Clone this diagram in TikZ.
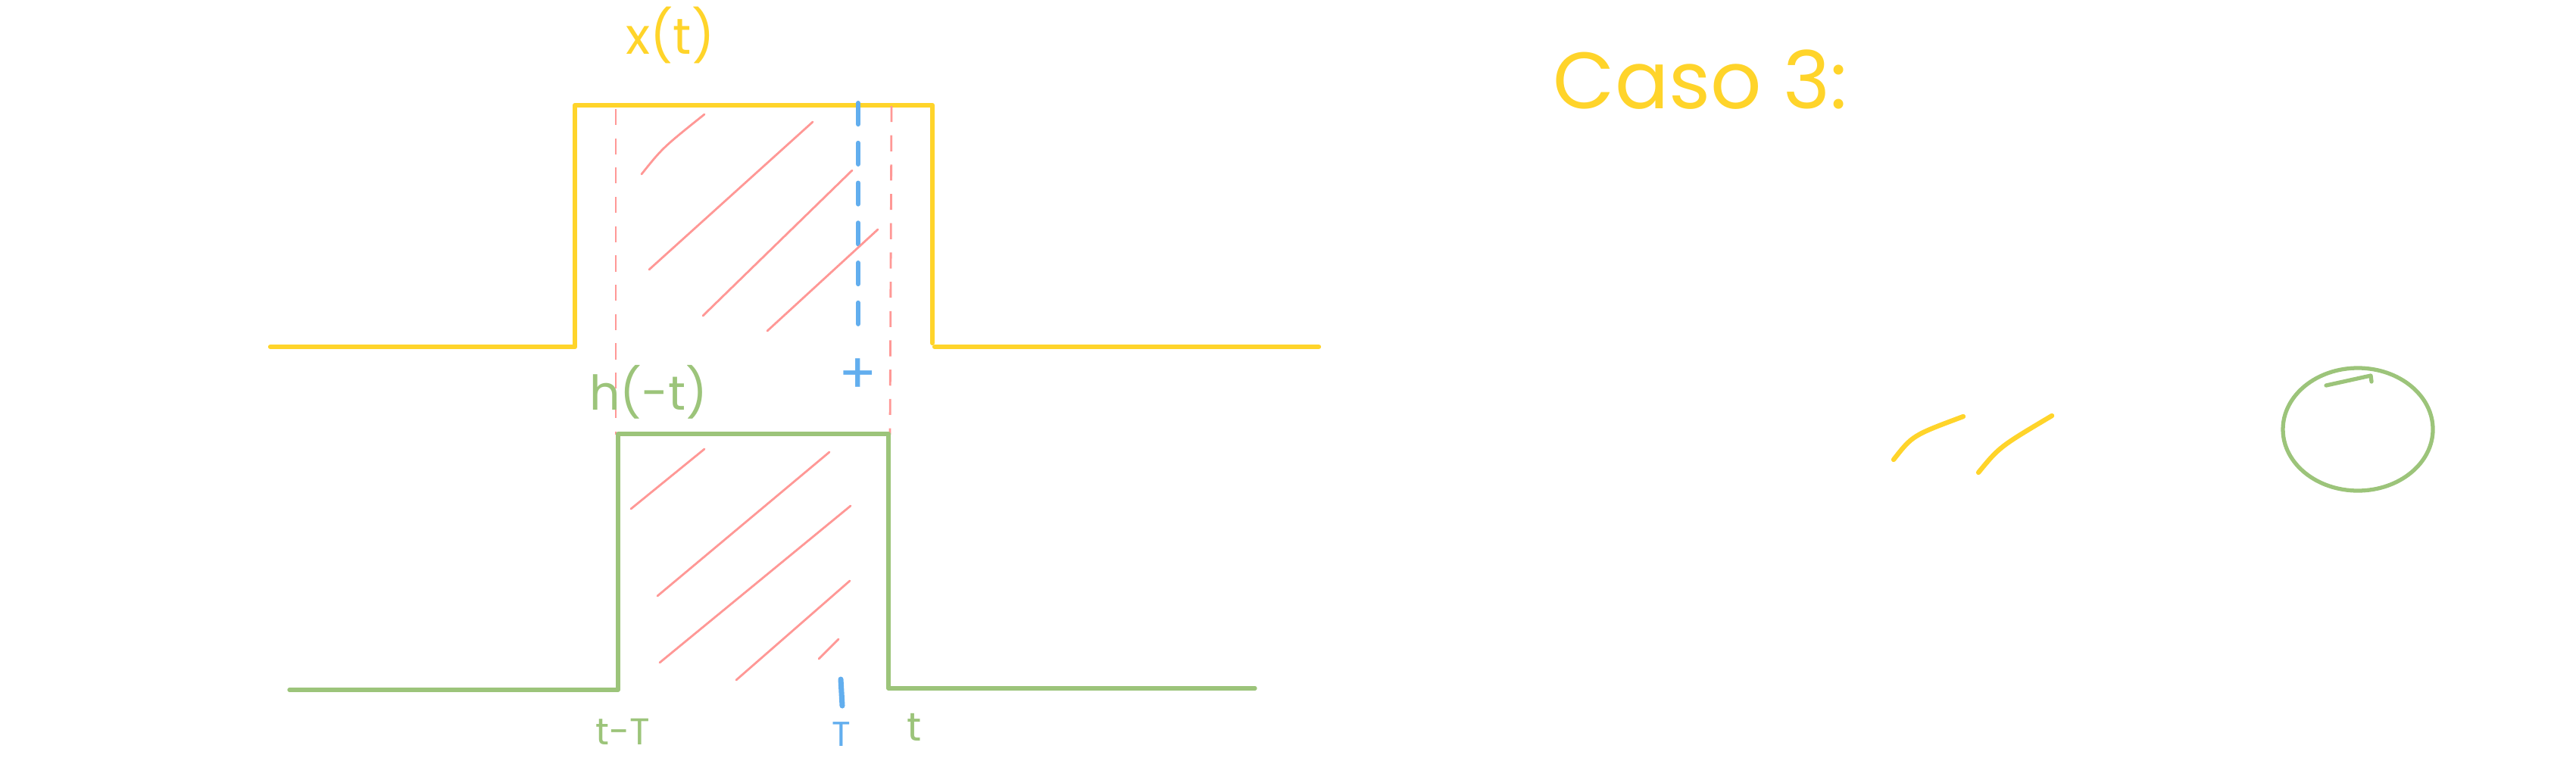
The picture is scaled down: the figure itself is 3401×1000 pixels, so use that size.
\documentclass[tikz,border=0pt]{standalone}
\usepackage{fontspec}
\setmainfont{Poppins}
\definecolor{xyellow}{RGB}{255,212,42}
\definecolor{hgreen}{RGB}{156,196,122}
\definecolor{hatchpink}{RGB}{255,152,150}
\definecolor{taublue}{RGB}{98,174,238}
\tikzset{
  xsig/.style={xyellow, line width=1.8pt, line cap=round, line join=round},
  hsig/.style={hgreen, line width=1.5pt, line cap=round, line join=round},
  hatchline/.style={hatchpink, line width=0.8pt, line cap=round},
  hatchdash/.style={hatchpink, line width=0.8pt, dash pattern=on 6pt off 5pt},
  taudash/.style={taublue, line width=1.7pt, line cap=round, dash pattern=on 8pt off 7pt},
  lab/.style={inner sep=0pt, font=\fontsize{19}{21}\selectfont}
}
\begin{document}
\begin{tikzpicture}[x=0.01cm, y=-0.01cm]
  \useasboundingbox (0,0) rectangle (3401,1000);

  % --- x(t), in alto ---
  \draw[xsig] (357,458) -- (759,458) -- (759,139) -- (1231,139) -- (1231,453);
  \draw[xsig] (1234,458) -- (1741,458);
  \node[lab, text=xyellow] (xlab) at (885,47) {x(t)};

  % --- estremi tratteggiati (rosa) ---
  \draw[hatchdash] (813,144) -- (813,574);
  \draw[hatchdash] (1177,140) -- (1175,574);

  % --- tratteggio blu e tau ---
  \draw[taudash] (1133,136) -- (1133,452);
  \node[lab, text=taublue, font=\fontsize{21}{23}\selectfont] (taulab) at (1133,497) {+};

  % --- righe oblique sopra ---
  \draw[hatchline] (847,230) .. controls (875,195) .. (930,151);
  \draw[hatchline] (857,356) -- (1073,161);
  \draw[hatchline] (928,417) -- (1125,225);
  \draw[hatchline] (1013,437) -- (1159,303);

  % --- h(-t), in basso ---
  \draw[hsig] (382,911) -- (816,911) -- (816,573) -- (1173,573) -- (1173,909) -- (1657,909);
  \node[lab, text=hgreen, font=\fontsize{18}{20}\selectfont] (hlab) at (856,518) {h(-t)};

  % --- righe oblique sotto ---
  \draw[hatchline] (833,672) -- (930,593);
  \draw[hatchline] (868,787) -- (1095,597);
  \draw[hatchline] (871,875) -- (1123,668);
  \draw[hatchline] (972,898) -- (1122,767);
  \draw[hatchline] (1081,870) -- (1107,844);

  % --- etichette asse ---
  \draw[taublue, line width=2pt, line cap=round] (1110,897) -- (1112,932);
  \node[lab, text=hgreen, font=\fontsize{14}{16}\selectfont] (tTlab) at (822,966) {t-T};
  \node[lab, text=taublue, font=\fontsize{13}{15}\selectfont] (Tlab) at (1111,970) {T};
  \node[lab, text=hgreen, font=\fontsize{15}{17}\selectfont] (tlab) at (1207,960) {t};

  % --- Caso 3 ---
  \node[lab, text=xyellow, anchor=base west, font=\fontsize{30}{34}\selectfont] (caso) at (2050,143) {Caso 3:};
  \draw[xsig] (2500,607) .. controls (2525,575) .. (2592,550);
  \draw[xsig] (2612,624) .. controls (2640,590) .. (2709,549);
  \draw[hsig] (3113,567) ellipse (99 and 81);
  \draw[hsig] (3071,509) -- (3130,496) -- (3131,504);

\end{tikzpicture}
\end{document}
